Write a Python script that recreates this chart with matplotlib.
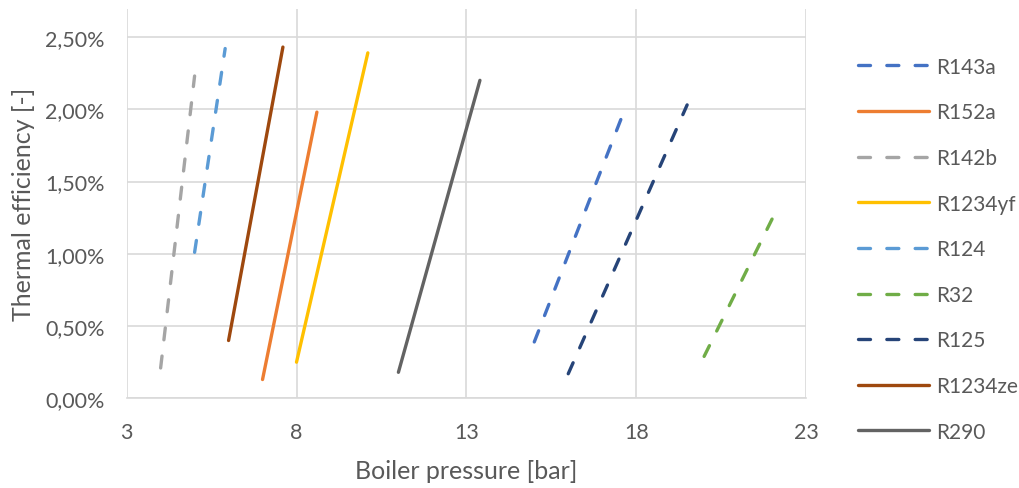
import matplotlib
matplotlib.use('Agg')
from matplotlib import pyplot as plt
from matplotlib.ticker import FuncFormatter

plt.rcParams['font.family'] = ['Lato', 'DejaVu Sans']

# Data (pressure in bar, efficiency in %)
names = ['R143a', 'R152a', 'R142b', 'R1234yf', 'R124', 'R32', 'R125', 'R1234ze', 'R290']
p_start = [15.0, 7.0, 4.0, 8.0, 5.0, 20.0, 16.0, 6.0, 11.0]
p_end = [17.55, 8.6, 5.0, 10.1, 5.9, 22.0, 19.5, 7.6, 13.4]
eff_start = [0.39, 0.13, 0.21, 0.25, 1.01, 0.29, 0.17, 0.40, 0.18]
eff_end = [1.93, 1.98, 2.23, 2.39, 2.42, 1.24, 2.03, 2.43, 2.20]
colors = ['#4472C4', '#ED7D31', '#A5A5A5', '#FFC000', '#5B9BD5', '#70AD47', '#264478', '#9E480E', '#636363']
dashed = [True, False, True, False, True, True, True, False, False]

txt = '#595959'
fig = plt.figure(figsize=(10.19, 4.89), dpi=100)
ax = fig.add_axes([0.1243, 0.1834, 0.791 - 0.1243, 0.98 - 0.1834])

for i in range(len(names)):
    if dashed[i]:
        ax.plot([p_start[i], p_end[i]], [eff_start[i], eff_end[i]], color=colors[i], lw=2.4,
                dashes=(3.6, 4.9), dash_capstyle='round', label=names[i])
    else:
        ax.plot([p_start[i], p_end[i]], [eff_start[i], eff_end[i]], color=colors[i], lw=2.4,
                solid_capstyle='round', label=names[i])

ax.set_xlim(3, 23)
ax.set_ylim(0, 2.695)
ax.set_xticks([3, 8, 13, 18, 23])
ax.set_yticks([0, 0.5, 1.0, 1.5, 2.0, 2.5])
ax.yaxis.set_major_formatter(FuncFormatter(lambda v, p: ('%.2f%%' % v).replace('.', ',')))
ax.grid(True, color='#D9D9D9', lw=1.2)
ax.set_axisbelow(True)
for s in ['top', 'right', 'left']:
    ax.spines[s].set_visible(False)
ax.spines['bottom'].set_color('#D9D9D9')
ax.spines['bottom'].set_linewidth(1.2)
ax.tick_params(length=0, labelsize=15.5, colors=txt)
ax.tick_params(axis='y', pad=16)
ax.tick_params(axis='x', pad=17)
ax.set_xlabel('Boiler pressure [bar]', fontsize=18, color=txt, labelpad=12)
ax.set_ylabel('Thermal efficiency [-]', fontsize=18, color=txt, labelpad=7)

leg = ax.legend(loc='upper left', bbox_to_anchor=(0.842, 0.882), bbox_transform=fig.transFigure,
                frameon=False, fontsize=15, handlelength=3.4, labelspacing=1.23,
                handletextpad=0.35, borderaxespad=0, borderpad=0)
for t in leg.get_texts():
    t.set_color(txt)

fig.savefig('out.png', dpi=100)
